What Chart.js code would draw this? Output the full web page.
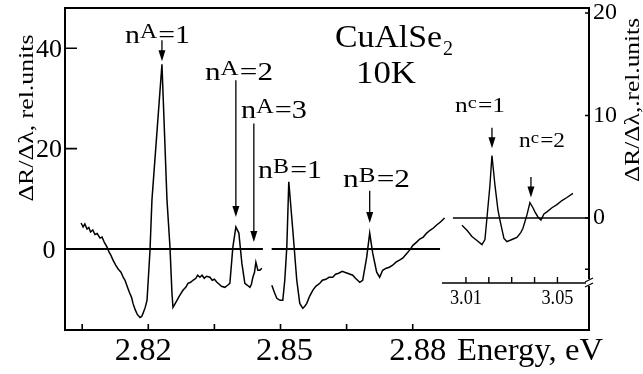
<!DOCTYPE html>
<html>
<head>
<meta charset="utf-8">
<script src="https://cdn.jsdelivr.net/npm/chart.js@4/dist/chart.umd.min.js"></script>
<style>
  html, body { margin: 0; padding: 0; background: #fff; }
  canvas { display: block; }
</style>
</head>
<body>
<canvas id="spectrum" width="643" height="374"></canvas>
<script>
/* ---------------------------------------------------------------
   Electroreflectance spectrum of CuAlSe2 at 10 K
   left part : A / B excitons (left scale)
   inset     : C exciton (right scale, own energy axis)
---------------------------------------------------------------- */

// A series (n=1..3), left scale
const segA_energy = [
  2.80475, 2.80520, 2.80560, 2.80610, 2.80650, 2.80690, 2.80740, 2.80790, 2.80840, 2.80905,
  2.80950, 2.81000, 2.81064, 2.81110, 2.81150, 2.81200, 2.81260, 2.81320, 2.81380, 2.81430,
  2.81472, 2.81520, 2.81570, 2.81620, 2.81653, 2.81700, 2.81750, 2.81812, 2.81850, 2.81880,
  2.81930, 2.81971, 2.82000, 2.82039, 2.82083, 2.82310, 2.82424, 2.82492, 2.82537, 2.82560,
  2.82600, 2.82651, 2.82700, 2.82786, 2.82850, 2.82900, 2.82960, 2.83013, 2.83080, 2.83120,
  2.83172, 2.83220, 2.83270, 2.83320, 2.83399, 2.83450, 2.83500, 2.83557, 2.83610, 2.83660,
  2.83738, 2.83800, 2.83851, 2.83919, 2.83987, 2.84055, 2.84123, 2.84191, 2.84250, 2.84305,
  2.84340, 2.84373, 2.84410, 2.84441, 2.84486, 2.84531, 2.84577
];
const segA_signal = [
   5.2,  4.4,  5.0,  4.0,  4.3,  3.4,  3.8,  2.9,  3.1,  2.2,
   2.4,  1.4,  0.4, -0.6, -1.2, -2.2, -3.2, -4.0, -4.6, -5.6,
  -6.2, -7.4, -8.6, -9.6, -10.8, -12.0, -13.0, -13.6, -13.4, -12.8,
  -11.6, -10.2, -6.0, -0.2,  9.8, 36.8,  9.8,  0.4, -8.8, -11.6,
  -11.0, -10.2, -9.4, -8.2, -7.6, -6.8, -6.6, -6.2, -5.8, -5.2,
  -5.6, -5.2, -5.8, -5.4, -5.6, -6.2, -6.0, -6.6, -7.0, -7.4,
  -7.6, -7.2, -6.8,  0.4,  4.4,  3.2, -2.8, -6.8, -7.2, -7.6,
  -7.0, -5.6, -4.6, -2.6, -4.2, -4.2, -3.8
];

// B series (n=1,2), left scale
const segB_energy = [
  2.84803, 2.84860, 2.84916, 2.84990, 2.85052, 2.85097, 2.85143, 2.85188, 2.85279, 2.85369,
  2.85437, 2.85506, 2.85550, 2.85596, 2.85660, 2.85732, 2.85800, 2.85891, 2.85950, 2.86030,
  2.86100, 2.86185, 2.86250, 2.86320, 2.86400, 2.86457, 2.86520, 2.86580, 2.86639, 2.86700,
  2.86750, 2.86797, 2.86865, 2.86956, 2.87024, 2.87092, 2.87182, 2.87250, 2.87318, 2.87400,
  2.87470, 2.87545, 2.87620, 2.87700, 2.87772, 2.87850, 2.87930, 2.88010, 2.88089, 2.88160,
  2.88240, 2.88316, 2.88400, 2.88470, 2.88543, 2.88630, 2.88724
];
const segB_signal = [
  -7.2, -8.6, -9.8, -10.2, -10.2, -6.2,  0.4, 13.4,  3.8, -6.2,
  -10.8, -11.8, -11.4, -10.8, -9.4, -8.2, -7.4, -6.8, -6.2, -6.0,
  -5.6, -5.6, -5.0, -4.8, -4.4, -4.6, -4.8, -5.0, -5.2, -5.8,
  -6.2, -6.6, -6.2, -1.6,  3.2, -0.8, -4.6, -5.6, -4.2, -3.8,
  -3.6, -3.2, -2.6, -2.2, -1.8, -1.0, -0.2,  0.8,  1.4,  2.0,
   2.4,  3.2,  3.8,  4.2,  4.8,  5.4,  6.2
];

// C series (n=1,2), inset, right scale
const segC_energy = [
  3.00825, 3.01044, 3.01262, 3.01481, 3.01699, 3.01831, 3.01918, 3.02049, 3.02137, 3.02268,
  3.02399, 3.02486, 3.02661, 3.02792, 3.03011, 3.03230, 3.03404, 3.03492, 3.03667, 3.03798,
  3.03929, 3.04016, 3.04148, 3.04279, 3.04410, 3.04541, 3.04760, 3.04978, 3.05197, 3.05415,
  3.05678
];
const segC_signal = [
  -0.7, -1.2, -1.8, -2.2, -2.6, -2.1,  0.0,  3.2,  6.1,  3.2,
   0.8, -0.2, -2.0, -2.3, -2.1, -1.9, -1.4, -1.0,  0.3,  1.5,
   1.0,  0.6,  0.1, -0.2,  0.4,  0.6,  1.0,  1.3,  1.7,  2.0,
   2.4
];

// zero baselines (energy spans)
const zeroA = [2.8011, 2.8460];
const zeroB = [2.8480, 2.8862];
const zeroC = [3.0043, 3.0640];

// axis ticks and labels
const xTicks       = [2.805, 2.82, 2.835, 2.85, 2.865, 2.88];
const xTickLabels  = ['2.82', '2.85', '2.88'];
const yLeftTicks   = [0, 20, 40];
const yRightTicks  = [-5, 0, 10, 20];
const yRightLabels = ['0', '10', '20'];
const insetTicks   = [3.01, 3.02, 3.03, 3.04, 3.05];
const insetLabels  = ['3.01', '3.05'];

const SERIF = '"Liberation Serif", "Times New Roman", serif';
const X_LABEL_SHIFT = [-5, 4, 5];

const pts = (xs, ys) => xs.map((x, i) => ({ x, y: ys[i] }));
const flat = (xs) => xs.map(x => ({ x, y: 0 }));

/* exciton labels: n^L=k, arrow drawn from top down to tip (scale values) */
const MARKS = [
  { sup: 'A', k: '1', xs: 'x',  ys: 'y',  e: 2.8231,  left: 125, base: 43,  w: 65, size: 25, top: 41.6, tip: 37.4 },
  { sup: 'A', k: '2', xs: 'x',  ys: 'y',  e: 2.83987, left: 205, base: 80,  w: 68, size: 25, top: 33.6, tip: 6.4 },
  { sup: 'A', k: '3', xs: 'x',  ys: 'y',  e: 2.84395, left: 241, base: 118, w: 66, size: 25, top: 25.0, tip: 1.4 },
  { sup: 'B', k: '1', xs: 'x',  ys: 'y',  e: null,    left: 258, base: 178, w: 64, size: 25 },
  { sup: 'B', k: '2', xs: 'x',  ys: 'y',  e: 2.87024, left: 343, base: 187, w: 67, size: 25, top: 11.6, tip: 5.2 },
  { sup: 'c', k: '1', xs: 'x2', ys: 'y2', e: 3.02137, left: 455, base: 112, w: 50, size: 20, top: 8.8, tip: 6.8 },
  { sup: 'c', k: '2', xs: 'x2', ys: 'y2', e: 3.03842, left: 519, base: 147, w: 46, size: 20, top: 4.0, tip: 2.0 },
];

function fitText(ctx, str, x, y, size, width, align) {
  ctx.font = size + 'px ' + SERIF;
  const w0 = ctx.measureText(str).width;
  const k = width ? width / w0 : 1;
  ctx.save();
  ctx.translate(x, y);
  ctx.scale(k, 1);
  ctx.textAlign = align || 'left';
  ctx.fillText(str, 0, 0);
  ctx.restore();
}

function drawLevel(ctx, m) {
  const s = m.size, small = Math.round(s * 0.8);
  ctx.font = s + 'px ' + SERIF;
  const wn = ctx.measureText('n').width;
  const weq = ctx.measureText('=' + m.k).width;
  ctx.font = small + 'px ' + SERIF;
  const ws = ctx.measureText(m.sup).width;
  const k = m.w / (wn + ws + weq + 1);
  ctx.save();
  ctx.translate(m.left, m.base);
  ctx.scale(k, 1);
  ctx.textAlign = 'left';
  ctx.textBaseline = 'alphabetic';
  ctx.font = s + 'px ' + SERIF;
  ctx.fillText('n', 0, 0);
  ctx.font = small + 'px ' + SERIF;
  ctx.fillText(m.sup, wn, -s * 0.2);
  ctx.font = s + 'px ' + SERIF;
  ctx.fillText('=' + m.k, wn + ws + 1, 0);
  ctx.restore();
}

function arrow(ctx, x, y0, y1) {
  ctx.beginPath();
  ctx.moveTo(x, y0);
  ctx.lineTo(x, y1 - 8);
  ctx.stroke();
  ctx.beginPath();
  ctx.moveTo(x - 3.5, y1 - 11);
  ctx.lineTo(x + 3.5, y1 - 11);
  ctx.lineTo(x, y1);
  ctx.closePath();
  ctx.fill();
}

const decorPlugin = {
  id: 'decor',
  afterDatasetsDraw(chart) {
    const { ctx, chartArea: a, scales } = chart;
    const { x, x2, y, y2 } = scales;
    ctx.save();
    ctx.strokeStyle = '#000';
    ctx.fillStyle = '#000';

    // frame
    ctx.lineWidth = 2;
    ctx.strokeRect(a.left, a.top, a.right - a.left, a.bottom - a.top);

    // inward ticks: bottom, left, right
    ctx.lineWidth = 1.6;
    ctx.beginPath();
    xTicks.forEach(v => {
      const px = x.getPixelForValue(v);
      ctx.moveTo(px, a.bottom);
      ctx.lineTo(px, a.bottom - 6);
    });
    yLeftTicks.forEach(v => {
      const py = y.getPixelForValue(v);
      ctx.moveTo(a.left, py);
      ctx.lineTo(a.left + 12, py);
    });
    yRightTicks.forEach(v => {
      const py = y2.getPixelForValue(v);
      ctx.moveTo(a.right, py);
      ctx.lineTo(a.right - 4, py);
    });
    ctx.stroke();

    // inset energy axis
    const yi = y2.getPixelForValue(-6.35);
    ctx.lineWidth = 1.4;
    ctx.beginPath();
    ctx.moveTo(x2.getPixelForValue(2.9995), yi);
    ctx.lineTo(a.right, yi);
    insetTicks.forEach(v => {
      const px = x2.getPixelForValue(v);
      ctx.moveTo(px, yi);
      ctx.lineTo(px, yi - 6);
    });
    ctx.stroke();

    // axis break mark
    ctx.fillStyle = '#fff';
    ctx.fillRect(a.right - 3, yi - 4, 6, 7);
    ctx.fillStyle = '#000';
    ctx.lineWidth = 1.2;
    ctx.beginPath();
    ctx.moveTo(a.right - 4, yi - 1); ctx.lineTo(a.right + 4, yi - 5);
    ctx.moveTo(a.right - 4, yi + 4); ctx.lineTo(a.right + 4, yi);
    ctx.stroke();

    // tick labels
    ctx.textBaseline = 'middle';
    ctx.textAlign = 'center';
    ctx.font = '26px ' + SERIF;
    yLeftTicks.forEach(v => ctx.fillText(String(v), 49, y.getPixelForValue(v) + 2));

    ctx.textAlign = 'left';
    ctx.font = '24px ' + SERIF;
    yRightLabels.forEach(t => ctx.fillText(t, a.right + 4, y2.getPixelForValue(+t)));

    ctx.textBaseline = 'alphabetic';
    xTickLabels.forEach((t, i) =>
      fitText(ctx, t, x.getPixelForValue(+t) + X_LABEL_SHIFT[i], 360, 31, 57, 'center'));
    fitText(ctx, 'Energy, eV', 457, 360, 31, 146, 'left');

    insetLabels.forEach(t => fitText(ctx, t, x2.getPixelForValue(+t), 304, 20, 32, 'center'));

    // rotated axis titles
    ctx.save();
    ctx.translate(27, 118);
    ctx.rotate(-Math.PI / 2);
    ctx.textBaseline = 'middle';
    fitText(ctx, 'ΔR/Δλ, rel.units', 0, 0, 21, 167, 'center');
    ctx.restore();

    ctx.save();
    ctx.translate(634, 100);
    ctx.rotate(-Math.PI / 2);
    ctx.textBaseline = 'middle';
    fitText(ctx, 'ΔR/Δλ,.rel.units', 0, 0, 20, 164, 'center');
    ctx.restore();

    // sample name
    fitText(ctx, 'CuAlSe', 335, 47, 32, 107, 'left');
    ctx.font = '20px ' + SERIF;
    ctx.fillText('2', 443, 55);
    fitText(ctx, '10K', 386, 83, 32, 60, 'center');

    // exciton marks
    ctx.lineWidth = 1.3;
    MARKS.forEach(m => {
      drawLevel(ctx, m);
      if (m.e === null) return;
      const sx = scales[m.xs], sy = scales[m.ys];
      arrow(ctx, sx.getPixelForValue(m.e), sy.getPixelForValue(m.top), sy.getPixelForValue(m.tip));
    });

    ctx.restore();
  }
};

const curve = (data, xAxisID, yAxisID, width) => ({
  data, xAxisID, yAxisID,
  borderColor: '#000',
  borderWidth: width,
  pointRadius: 0,
  tension: 0,
  fill: false,
});

new Chart(document.getElementById('spectrum'), {
  type: 'line',
  data: {
    datasets: [
      curve(flat(zeroA), 'x', 'y', 2),
      curve(flat(zeroB), 'x', 'y', 2),
      curve(flat(zeroC), 'x2', 'y2', 1.6),
      curve(pts(segA_energy, segA_signal), 'x', 'y', 1.5),
      curve(pts(segB_energy, segB_signal), 'x', 'y', 1.5),
      curve(pts(segC_energy, segC_signal), 'x2', 'y2', 1.4),
    ],
  },
  options: {
    responsive: false,
    animation: false,
    layout: { padding: { left: 65, top: 8, right: 54, bottom: 44 } },
    plugins: { legend: { display: false }, tooltip: { enabled: false } },
    scales: {
      x:  { type: 'linear', min: 2.8011, max: 2.9200, display: false },
      x2: { type: 'linear', min: 2.8347, max: 3.0638, display: false },
      y:  { type: 'linear', min: -16.1, max: 48.0, display: false },
      y2: { type: 'linear', min: -10.93, max: 20.49, display: false },
    },
  },
  plugins: [decorPlugin],
});
</script>
</body>
</html>
